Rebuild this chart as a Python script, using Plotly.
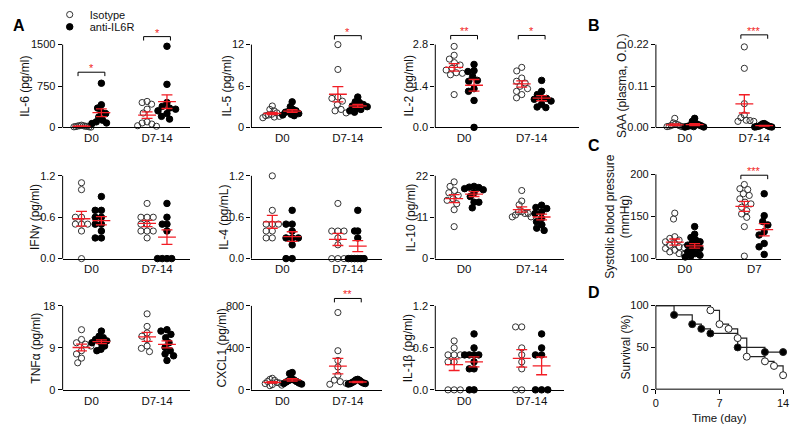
import numpy as np
import plotly.graph_objects as go

W, H = 800, 436
FONT = "Arial, 'Liberation Sans', sans-serif"
RED = "#f21d25"
INK = "#111111"

# ------------------------------------------------------------------ data
groups = ["D0", "D7-14"]
groups_c = ["D0", "D7"]

il6_iso_d0 = [40, 30, 30, 25, 20, 20, 15, 10, 10, 5]
il6_anti_d0 = [800, 410, 350, 280, 250, 190, 130, 100, 80, 70]
il6_iso_d7 = [470, 450, 420, 330, 260, 100, 80, 60, 30, 20]
il6_anti_d7 = [1470, 780, 450, 380, 350, 330, 300, 250, 200, 150]

il5_iso_d0 = [3.1, 2.6, 2.4, 2.1, 1.9, 1.8, 1.7, 1.6, 1.5, 1.4]
il5_anti_d0 = [3.7, 3.0, 2.6, 2.4, 2.3, 2.2, 2.0, 1.9, 1.8, 1.7]
il5_iso_d7 = [12.0, 8.4, 4.4, 4.2, 3.8, 3.3, 2.6, 2.4, 2.1]
il5_anti_d7 = [4.4, 3.7, 3.6, 3.3, 3.1, 3.0, 2.9, 2.6, 2.4, 2.2]

il2_iso_d0 = [2.74, 2.44, 2.31, 2.19, 2.11, 2.0, 1.94, 1.85, 1.83, 1.78, 1.11]
il2_anti_d0 = [2.13, 1.92, 1.89, 1.72, 1.59, 1.56, 1.31, 1.22, 0.91, 0.0]
il2_iso_d7 = [2.03, 1.91, 1.67, 1.56, 1.50, 1.39, 1.31, 1.22, 1.11, 1.00]
il2_anti_d7 = [1.59, 1.22, 1.11, 1.00, 0.98, 0.95, 0.89, 0.78, 0.69, 0.67]

saa_iso_d0 = [0.024, 0.012, 0.009, 0.007, 0.005, 0.004, 0.003, 0.002, 0.002, 0.001]
saa_anti_d0 = [0.024, 0.016, 0.010, 0.007, 0.005, 0.004, 0.003, 0.002, 0.001, 0.001]
saa_iso_d7 = [0.214, 0.157, 0.063, 0.033, 0.026, 0.019, 0.018, 0.016, 0.016]
saa_anti_d7 = [0.010, 0.009, 0.007, 0.005, 0.004, 0.003, 0.002, 0.002, 0.001, 0.001]

ifng_iso_d0 = [1.1, 1.0, 0.6, 0.6, 0.5, 0.5, 0.5, 0.4, 0.0]
ifng_anti_d0 = [0.9, 0.7, 0.7, 0.6, 0.6, 0.5, 0.5, 0.4, 0.3, 0.3]
ifng_iso_d7 = [0.8, 0.6, 0.6, 0.6, 0.5, 0.5, 0.4, 0.4, 0.4, 0.3]
ifng_anti_d7 = [0.8, 0.6, 0.5, 0.5, 0.4, 0.0, 0.0, 0.0, 0.0]

il4_iso_d0 = [1.2, 0.7, 0.5, 0.5, 0.5, 0.4, 0.4, 0.3, 0.3]
il4_anti_d0 = [0.7, 0.5, 0.5, 0.4, 0.3, 0.3, 0.3, 0.2, 0.0, 0.0]
il4_iso_d7 = [0.8, 0.4, 0.4, 0.4, 0.3, 0.2, 0.0, 0.0, 0.0]
il4_anti_d7 = [0.7, 0.4, 0.4, 0.3, 0.0, 0.0, 0.0, 0.0, 0.0, 0.0]

il10_iso_d0 = [20.4, 19.2, 18.1, 17.5, 16.8, 15.9, 15.5, 14.6, 13.0, 8.5]
il10_anti_d0 = [19.2, 19.0, 18.9, 18.6, 18.3, 17.5, 16.5, 15.0, 15.0, 13.5]
il10_iso_d7 = [18.1, 15.3, 14.3, 12.5, 12.4, 12.0, 12.0, 11.6, 11.1, 11.1]
il10_anti_d7 = [14.2, 13.6, 13.3, 12.4, 12.0, 10.7, 9.8, 9.0, 8.1, 7.5]

tnfa_iso_d0 = [12.9, 10.8, 10.1, 9.8, 9.4, 8.4, 7.7, 6.8, 5.8]
tnfa_anti_d0 = [12.6, 11.5, 11.2, 10.8, 10.5, 10.1, 10.1, 9.4, 8.7, 8.4]
tnfa_iso_d7 = [16.3, 13.6, 12.2, 11.5, 10.8, 9.4, 8.9, 8.2]
tnfa_anti_d7 = [12.9, 12.6, 11.9, 11.2, 10.1, 9.1, 8.4, 7.7, 7.3, 6.3]

cxcl1_iso_d0 = [110, 100, 90, 80, 70, 65, 60, 50, 45, 40]
cxcl1_anti_d0 = [165, 155, 110, 95, 90, 80, 75, 65, 60, 55]
cxcl1_iso_d7 = [737, 373, 280, 218, 140, 93, 78, 62, 53]
cxcl1_anti_d7 = [100, 95, 90, 80, 75, 70, 65, 60, 60, 55]

il1b_iso_d0 = [0.7, 0.6, 0.5, 0.5, 0.5, 0.4, 0.4, 0.0, 0.0, 0.0]
il1b_anti_d0 = [0.8, 0.6, 0.5, 0.5, 0.5, 0.5, 0.4, 0.3, 0.3, 0.0, 0.0]
il1b_iso_d7 = [0.9, 0.9, 0.6, 0.5, 0.4, 0.3, 0.0, 0.0]
il1b_anti_d7 = [0.8, 0.6, 0.5, 0.5, 0.0, 0.0, 0.0]

bp_iso_d0 = [154, 147, 126, 124, 122, 120, 118, 116, 114, 113, 112, 110, 108, 106, 105]
bp_anti_d0 = [138, 129, 125, 122, 120, 118, 116, 114, 112, 110, 108, 106, 104, 103, 102]
bp_iso_d7 = [188, 183, 182, 177, 175, 171, 167, 165, 161, 157, 153, 149, 138, 103]
bp_anti_d7 = [177, 151, 144, 140, 132, 128, 118, 114, 105]

surv_iso_day = [0, 6, 7, 8, 9, 10, 12, 13, 14]
surv_iso_pct = [100, 94.4, 77.8, 72.2, 61.1, 38.9, 33.3, 27.8, 16.7]
surv_anti_day = [0, 2, 4, 5, 6, 9, 12, 14]
surv_anti_pct = [100, 88.9, 77.8, 72.2, 66.7, 50.0, 44.4, 44.4]

# tick values / labels
il6_ticks, il6_tt = [0, 750, 1500], ["0", "750", "1500"]
il5_ticks, il5_tt = [0, 6, 12], ["0", "6", "12"]
il2_ticks, il2_tt = [0, 1.4, 2.8], ["0.0", "1.4", "2.8"]
saa_ticks, saa_tt = [0, 0.11, 0.22], ["0.00", "0.11", "0.22"]
ifng_ticks, ifng_tt = [0, 0.6, 1.2], ["0.0", "0.6", "1.2"]
il4_ticks, il4_tt = [0, 0.6, 1.2], ["0.0", "0.6", "1.2"]
il10_ticks, il10_tt = [0, 11, 22], ["0", "11", "22"]
tnfa_ticks, tnfa_tt = [0, 9, 18], ["0", "9", "18"]
cxcl1_ticks, cxcl1_tt = [0, 400, 800], ["0", "400", "800"]
il1b_ticks, il1b_tt = [0, 0.6, 1.2], ["0.0", "0.6", "1.2"]
bp_ticks, bp_tt = [100, 150, 200], ["100", "150", "200"]
surv_xticks = [0, 7, 14]
surv_yticks = [0, 50, 100]

# ------------------------------------------------------------------ layout geometry (pixels)
COLS = {1: (60, 188, 89, 155), 2: (250, 381, 281, 347), 3: (435, 565, 464, 532),
        "3w": (435, 580, 464, 532), 4: (657, 783, 686, 756)}
ROWS = {1: (127, 42.5), 2: (261, 176.5), 3: (395, 309.3), "C": (261, 175)}

panels = [
    dict(t="IL-6 (pg/ml)", s=[il6_iso_d0, il6_anti_d0, il6_iso_d7, il6_anti_d7], lab=groups,
         tk=il6_ticks, tt=il6_tt, col=1, row=1, tx=22, sig=[(0, 1000, "*"), (1, 1645, "*")]),
    dict(t="IL-5 (pg/ml)", s=[il5_iso_d0, il5_anti_d0, il5_iso_d7, il5_anti_d7], lab=groups,
         tk=il5_ticks, tt=il5_tt, col=2, row=1, tx=225, sig=[(1, 13.3, "*")]),
    dict(t="IL-2 (pg/ml)", s=[il2_iso_d0, il2_anti_d0, il2_iso_d7, il2_anti_d7], lab=groups,
         tk=il2_ticks, tt=il2_tt, col="3w", row=1, tx=409, sig=[(0, 3.11, "**"), (1, 3.11, "*")]),
    dict(t="SAA (plasma, O.D.)", s=[saa_iso_d0, saa_anti_d0, saa_iso_d7, saa_anti_d7], lab=groups,
         tk=saa_ticks, tt=saa_tt, col=4, row=1, tx=623, sig=[(1, 0.246, "***")]),
    dict(t="IFNγ (pg/ml)", s=[ifng_iso_d0, ifng_anti_d0, ifng_iso_d7, ifng_anti_d7], lab=groups,
         tk=ifng_ticks, tt=ifng_tt, col=1, row=2, tx=32, sig=[]),
    dict(t="IL-4 (pg/mL)", s=[il4_iso_d0, il4_anti_d0, il4_iso_d7, il4_anti_d7], lab=groups,
         tk=il4_ticks, tt=il4_tt, col=2, row=2, tx=223, sig=[]),
    dict(t="IL-10 (pg/ml)", s=[il10_iso_d0, il10_anti_d0, il10_iso_d7, il10_anti_d7], lab=groups,
         tk=il10_ticks, tt=il10_tt, col=3, row=2, tx=411, sig=[]),
    dict(t="TNFα (pg/ml)", s=[tnfa_iso_d0, tnfa_anti_d0, tnfa_iso_d7, tnfa_anti_d7], lab=groups,
         tk=tnfa_ticks, tt=tnfa_tt, col=1, row=3, tx=33, sig=[]),
    dict(t="CXCL1 (pg/ml)", s=[cxcl1_iso_d0, cxcl1_anti_d0, cxcl1_iso_d7, cxcl1_anti_d7], lab=groups,
         tk=cxcl1_ticks, tt=cxcl1_tt, col=2, row=3, tx=220, sig=[(1, 871, "**")]),
    dict(t="IL-1β (pg/ml)", s=[il1b_iso_d0, il1b_anti_d0, il1b_iso_d7, il1b_anti_d7], lab=groups,
         tk=il1b_ticks, tt=il1b_tt, col=3, row=3, tx=407, sig=[]),
    dict(t="Systolic blood pressure<br>(mmHg)", s=[bp_iso_d0, bp_anti_d0, bp_iso_d7, bp_anti_d7],
         lab=groups_c, tk=bp_ticks, tt=bp_tt, col=4, row="C", tx=618, sig=[(1, 199, "***")]),
]


def beeswarm(vals, ppv, d=6.2, maxw=9.5):
    """x offsets (px) so that markers of diameter d do not overlap, then compressed to +-maxw."""
    ys = np.asarray(vals, float) * ppv
    order = np.argsort(-ys, kind="stable")
    placed, off = [], np.zeros(len(ys))
    for i in order:
        y = ys[i]
        cands = [0.0]
        for xj, yj in placed:
            dy = abs(y - yj)
            if dy < d:
                dx = np.sqrt(d * d - dy * dy)
                cands += [xj + dx, xj - dx]
        cands.sort(key=lambda c: (round(abs(c), 6), c))
        for c in cands:
            if all((c - xj) ** 2 + (y - yj) ** 2 >= d * d - 1e-6 for xj, yj in placed):
                off[i] = c
                placed.append((c, y))
                break
    span = np.max(np.abs(off)) if len(off) else 0
    if span > maxw:
        off = off * (maxw / span)
    return off


fig = go.Figure()
shapes, annots, layout_axes = [], [], {}
AX_FONT = dict(family=FONT, size=11, color=INK)
TITLE_FONT = dict(family=FONT, size=12, color=INK)

for k, p in enumerate(panels, start=1):
    left, right, d0, d7 = COLS[p["col"]]
    y0, yt = ROWS[p["row"]]
    ymin, ymax = p["tk"][0], p["tk"][-1]
    unit = (d7 - d0) / 2.0
    xmin = 1 - (d0 - left) / unit
    xmax = 3 + (right - d7) / unit
    ppv = (y0 - yt) / (ymax - ymin)
    ext = 18
    ytop = ymax + ext / ppv
    sx = "" if k == 1 else str(k)
    layout_axes["xaxis" + sx] = dict(
        domain=[left / W, right / W], range=[xmin, xmax], anchor="y" + sx,
        showline=True, linecolor="black", linewidth=1, ticks="", showgrid=False,
        zeroline=False, tickvals=[1, 3], ticktext=p["lab"], tickfont=dict(family=FONT, size=11.5, color=INK))
    layout_axes["yaxis" + sx] = dict(
        domain=[1 - y0 / H, 1 - (yt - ext) / H], range=[ymin, ytop], anchor="x" + sx,
        showline=False, ticks="outside", ticklen=4, tickwidth=1, tickcolor="black",
        showgrid=False, zeroline=False, tickvals=p["tk"], ticktext=p["tt"], tickfont=AX_FONT)
    shapes.append(dict(type="line", xref="x" + sx + " domain", yref="y" + sx + " domain",
                       x0=0, x1=0, y0=0, y1=(ymax - ymin) / (ytop - ymin),
                       line=dict(color="black", width=1)))
    sub = 10 / unit
    centers = [1 - sub, 1 + sub, 3 - sub, 3 + sub]
    mx, my = [], []
    for gi, (vals, xc) in enumerate(zip(p["s"], centers)):
        xs = xc + beeswarm([v - ymin for v in vals], ppv) / unit
        iso = gi % 2 == 0
        fig.add_trace(go.Scatter(
            x=xs, y=vals, mode="markers", xaxis="x" + sx, yaxis="y" + sx, cliponaxis=False,
            marker=dict(symbol="circle-open" if iso else "circle", size=6.2 if iso else 6.5,
                        color="#333333" if iso else "black", line=dict(width=1, color="#333333" if iso else "black")),
            name="Isotype" if iso else "anti-IL6R", legend="legend" if iso else "legend2",
            showlegend=(k == 1 and gi < 2), hoverinfo="skip"))
        m = float(np.mean(vals))
        se = float(np.std(vals, ddof=1) / np.sqrt(len(vals)))
        hm, hc = 9 / unit, 5.5 / unit
        mx += [xc - hm, xc + hm, None, xc - hc, xc + hc, None, xc - hc, xc + hc, None, xc, xc, None]
        my += [m, m, None, m + se, m + se, None, m - se, m - se, None, m - se, m + se, None]
    fig.add_trace(go.Scatter(x=mx, y=my, mode="lines", xaxis="x" + sx, yaxis="y" + sx,
                             line=dict(color=RED, width=1.3), showlegend=False, hoverinfo="skip",
                             cliponaxis=False))
    # significance brackets
    bx, by = [], []
    for gidx, yv, stars in p["sig"]:
        gc = 1 + 2 * gidx
        hw = 13.5 / unit
        drop = 4 / ppv
        bx += [gc - hw, gc - hw, gc + hw, gc + hw, None]
        by += [yv - drop, yv, yv, yv - drop, None]
        annots.append(dict(x=gc, y=yv, xref="x" + sx, yref="y" + sx, text=stars, showarrow=False,
                           yanchor="bottom", yshift=-4, font=dict(family=FONT, size=11, color=RED)))
    if bx:
        fig.add_trace(go.Scatter(x=bx, y=by, mode="lines", xaxis="x" + sx, yaxis="y" + sx,
                                 line=dict(color="black", width=1), showlegend=False, hoverinfo="skip"))
    annots.append(dict(x=p["tx"] / W, y=1 - ((y0 + yt) / 2) / H, xref="paper", yref="paper",
                       text=p["t"], textangle=-90, showarrow=False, xanchor="center", yanchor="middle",
                       font=TITLE_FONT))

# ------------------------------------------------------------------ panel D (survival)
k = len(panels) + 1
sx = str(k)
left, right, y0, yt = 657, 785, 394.3, 309
xunit = (right - left) / 14.0
xmax = 14 + 4 / xunit
ppv = (y0 - yt) / 100.0
ytop = 100 + 4 / ppv
layout_axes["xaxis" + sx] = dict(
    domain=[left / W, (right + 4) / W], range=[0, xmax], anchor="y" + sx, showline=False,
    ticks="outside", ticklen=4, tickwidth=1, tickcolor="black", showgrid=False, zeroline=False,
    tickvals=surv_xticks, tickfont=AX_FONT)
layout_axes["yaxis" + sx] = dict(
    domain=[1 - y0 / H, 1 - (yt - 4) / H], range=[0, ytop], anchor="x" + sx, showline=False,
    ticks="outside", ticklen=4, tickwidth=1, tickcolor="black", showgrid=False, zeroline=False,
    tickvals=surv_yticks, tickfont=AX_FONT)
shapes.append(dict(type="line", xref="x" + sx + " domain", yref="y" + sx + " domain",
                   x0=0, x1=0, y0=0, y1=100 / ytop, line=dict(color="black", width=1)))
shapes.append(dict(type="line", xref="x" + sx + " domain", yref="y" + sx + " domain",
                   x0=0, x1=14 / xmax, y0=0, y1=0, line=dict(color="black", width=1)))
for day, pct, iso in [(surv_iso_day, surv_iso_pct, True), (surv_anti_day, surv_anti_pct, False)]:
    fig.add_trace(go.Scatter(x=day, y=pct, mode="lines", line_shape="hv", xaxis="x" + sx, yaxis="y" + sx,
                             line=dict(color="#222222", width=1.2), showlegend=False, hoverinfo="skip"))
for day, pct, iso in [(surv_iso_day, surv_iso_pct, True), (surv_anti_day, surv_anti_pct, False)]:
    fig.add_trace(go.Scatter(x=day[1:], y=pct[1:], mode="markers", xaxis="x" + sx, yaxis="y" + sx,
                             cliponaxis=False,
                             marker=dict(symbol="circle", size=7, color="white" if iso else "black",
                                         line=dict(width=1, color="#222222")),
                             showlegend=False, hoverinfo="skip"))
annots.append(dict(x=627 / W, y=1 - ((y0 + yt) / 2) / H, xref="paper", yref="paper", text="Survival (%)",
                   textangle=-90, showarrow=False, xanchor="center", yanchor="middle", font=TITLE_FONT))
annots.append(dict(x=721 / W, y=1 - 424 / H, xref="paper", yref="paper", text="Time (day)",
                   showarrow=False, xanchor="center", yanchor="middle",
                   font=dict(family=FONT, size=11.5, color=INK)))

# panel letters
for letter, px, py in [("A", 8, 22.5), ("B", 587, 22.5), ("C", 587, 145), ("D", 587, 296)]:
    annots.append(dict(x=px / W, y=1 - py / H, xref="paper", yref="paper", text="<b>%s</b>" % letter,
                       showarrow=False, xanchor="left", yanchor="middle",
                       font=dict(family=FONT, size=16, color="black")))

fig.update_layout(
    width=W, height=H, margin=dict(l=0, r=0, t=0, b=0),
    paper_bgcolor="white", plot_bgcolor="white", font=dict(family=FONT, color=INK),
    shapes=shapes, annotations=annots,
    legend=dict(x=47 / W, y=1 + 3 / H, xanchor="left", yanchor="top", bgcolor="rgba(0,0,0,0)",
                font=dict(family=FONT, size=11, color=INK), itemwidth=30, borderwidth=0),
    legend2=dict(x=47 / W, y=1 - 9.5 / H, xanchor="left", yanchor="top", bgcolor="rgba(0,0,0,0)",
                 font=dict(family=FONT, size=11, color=INK), itemwidth=30, borderwidth=0),
    **layout_axes,
)
fig.write_html("out.html", config={"displayModeBar": False},
               post_script="document.body.style.margin='0px';")
